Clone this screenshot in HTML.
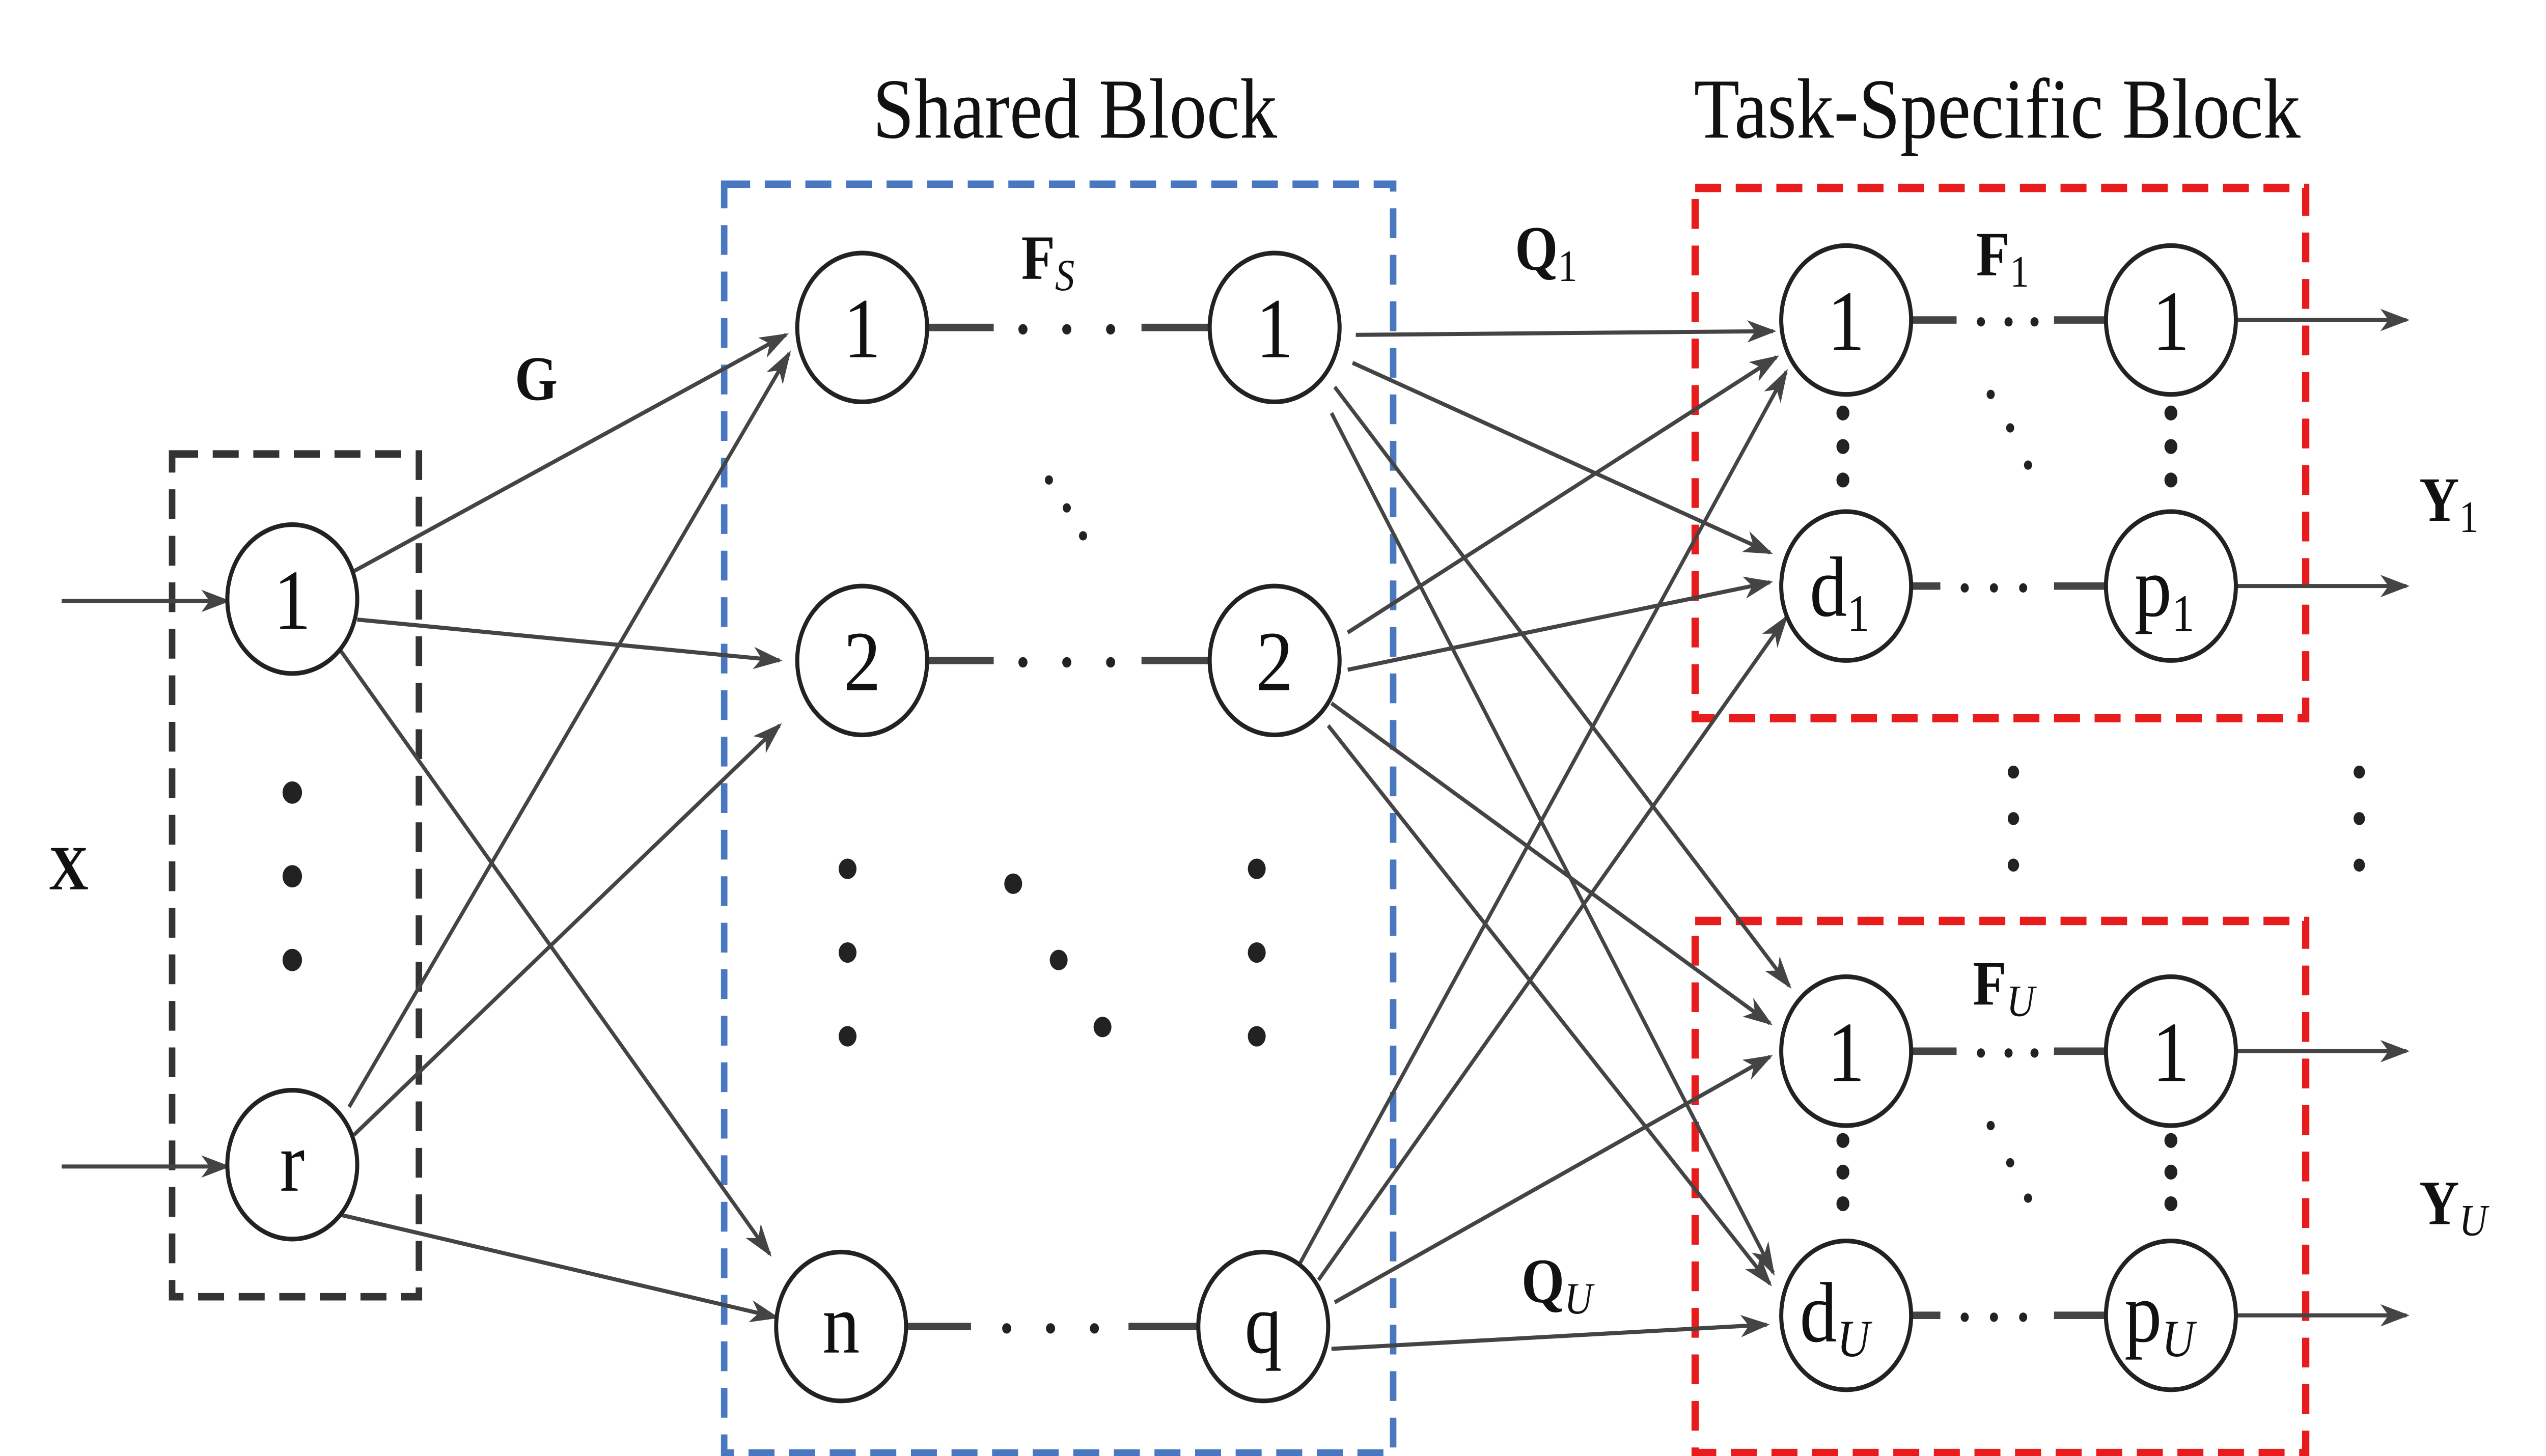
<!DOCTYPE html>
<html><head><meta charset="utf-8"><style>
html,body{margin:0;padding:0;background:#fff;overflow:hidden;width:100%;height:100%;}
svg{display:block;position:fixed;left:0;top:0;width:100vw;height:100vh;}
text{font-family:"Liberation Serif",serif;fill:#111;}
</style></head><body>
<svg viewBox="0 0 1568 782.6" preserveAspectRatio="none" xmlns="http://www.w3.org/2000/svg">
<defs>
<marker id="a" markerWidth="18" markerHeight="12" refX="16" refY="6" orient="auto" markerUnits="userSpaceOnUse">
<path d="M0,0 L18,6 L0,12 L5,6 Z" fill="#444"/>
</marker>
</defs>
<rect width="1568" height="782.6" fill="#fff"/>
<rect x="106" y="244" width="152" height="453" fill="none" stroke="#333" stroke-width="4" stroke-dasharray="16,9"/>
<rect x="446" y="99" width="412" height="682" fill="none" stroke="#4a78c0" stroke-width="4" stroke-dasharray="16,9"/>
<rect x="1044" y="101" width="376" height="285" fill="none" stroke="#e81c1c" stroke-width="4.5" stroke-dasharray="16,9"/>
<rect x="1044" y="495" width="376" height="286" fill="none" stroke="#e81c1c" stroke-width="4.5" stroke-dasharray="16,9"/>
<text x="662" y="74" font-size="46" text-anchor="middle">Shared Block</text>
<text x="1230" y="74" font-size="46" text-anchor="middle">Task-Specific Block</text>
<g stroke="#444" stroke-width="2.2" fill="none" marker-end="url(#a)">
<line x1="38" y1="323" x2="140" y2="323"/>
<line x1="38" y1="627" x2="140" y2="627"/>
<line x1="218" y1="307" x2="484" y2="180"/>
<line x1="220" y1="333" x2="480" y2="355"/>
<line x1="210" y1="350" x2="474" y2="674"/>
<line x1="215" y1="595" x2="486" y2="190"/>
<line x1="218" y1="610" x2="480" y2="390"/>
<line x1="210" y1="653" x2="478" y2="708"/>
<line x1="835" y1="180" x2="1092" y2="178"/>
<line x1="833" y1="195" x2="1090" y2="297"/>
<line x1="822" y1="208" x2="1102" y2="530"/>
<line x1="820" y1="222" x2="1092" y2="684"/>
<line x1="830" y1="340" x2="1094" y2="192"/>
<line x1="830" y1="360" x2="1090" y2="313"/>
<line x1="820" y1="378" x2="1090" y2="550"/>
<line x1="818" y1="390" x2="1090" y2="690"/>
<line x1="800" y1="680" x2="1100" y2="200"/>
<line x1="812" y1="688" x2="1100" y2="332"/>
<line x1="822" y1="700" x2="1090" y2="568"/>
<line x1="820" y1="725" x2="1088" y2="712"/>
<line x1="1378" y1="172" x2="1482" y2="172"/>
<line x1="1378" y1="315" x2="1482" y2="315"/>
<line x1="1378" y1="565" x2="1482" y2="565"/>
<line x1="1378" y1="707" x2="1482" y2="707"/>
</g>
<g stroke="#444" stroke-width="4">
<line x1="571" y1="176" x2="612" y2="176"/><line x1="703" y1="176" x2="745" y2="176"/>
<line x1="571" y1="355" x2="612" y2="355"/><line x1="703" y1="355" x2="745" y2="355"/>
<line x1="558" y1="713" x2="598" y2="713"/><line x1="695" y1="713" x2="738" y2="713"/>
<line x1="1177" y1="172" x2="1205" y2="172"/><line x1="1265" y1="172" x2="1297" y2="172"/>
<line x1="1177" y1="315" x2="1195" y2="315"/><line x1="1265" y1="315" x2="1297" y2="315"/>
<line x1="1177" y1="565" x2="1205" y2="565"/><line x1="1265" y1="565" x2="1297" y2="565"/>
<line x1="1177" y1="707" x2="1195" y2="707"/><line x1="1265" y1="707" x2="1297" y2="707"/>
</g>
<g fill="#222">
<circle cx="630" cy="177" r="2.8"/><circle cx="657" cy="177" r="2.8"/><circle cx="684" cy="177" r="2.8"/>
<circle cx="630" cy="356" r="2.8"/><circle cx="657" cy="356" r="2.8"/><circle cx="684" cy="356" r="2.8"/>
<circle cx="620" cy="714" r="2.8"/><circle cx="647" cy="714" r="2.8"/><circle cx="674" cy="714" r="2.8"/>
<circle cx="1220" cy="173" r="2.5"/><circle cx="1237" cy="173" r="2.5"/><circle cx="1253" cy="173" r="2.5"/>
<circle cx="1210" cy="316" r="2.5"/><circle cx="1228" cy="316" r="2.5"/><circle cx="1246" cy="316" r="2.5"/>
<circle cx="1220" cy="566" r="2.5"/><circle cx="1237" cy="566" r="2.5"/><circle cx="1253" cy="566" r="2.5"/>
<circle cx="1210" cy="708" r="2.5"/><circle cx="1228" cy="708" r="2.5"/><circle cx="1246" cy="708" r="2.5"/>
<circle cx="180" cy="426" r="6"/><circle cx="180" cy="471" r="6"/><circle cx="180" cy="516" r="6"/>
<circle cx="522" cy="467" r="5.5"/><circle cx="522" cy="512" r="5.5"/><circle cx="522" cy="557" r="5.5"/>
<circle cx="774" cy="467" r="5.5"/><circle cx="774" cy="512" r="5.5"/><circle cx="774" cy="557" r="5.5"/>
<circle cx="624" cy="475" r="5.5"/><circle cx="652" cy="516" r="5.5"/><circle cx="679" cy="552" r="5.5"/>
<circle cx="646" cy="258" r="2.5"/><circle cx="657" cy="273" r="2.5"/><circle cx="667" cy="288" r="2.5"/>
<circle cx="1135" cy="222" r="4"/><circle cx="1135" cy="240" r="4"/><circle cx="1135" cy="258" r="4"/>
<circle cx="1337" cy="222" r="4"/><circle cx="1337" cy="240" r="4"/><circle cx="1337" cy="258" r="4"/>
<circle cx="1226" cy="212" r="2.5"/><circle cx="1238" cy="230" r="2.5"/><circle cx="1249" cy="250" r="2.5"/>
<circle cx="1135" cy="613" r="4"/><circle cx="1135" cy="630" r="4"/><circle cx="1135" cy="647" r="4"/>
<circle cx="1337" cy="613" r="4"/><circle cx="1337" cy="630" r="4"/><circle cx="1337" cy="647" r="4"/>
<circle cx="1226" cy="605" r="2.5"/><circle cx="1238" cy="625" r="2.5"/><circle cx="1249" cy="644" r="2.5"/>
<circle cx="1240" cy="415" r="3.5"/><circle cx="1240" cy="440" r="3.5"/><circle cx="1240" cy="465" r="3.5"/>
<circle cx="1453" cy="415" r="3.5"/><circle cx="1453" cy="440" r="3.5"/><circle cx="1453" cy="465" r="3.5"/>
</g>
<g fill="#fff" stroke="#222" stroke-width="2.5">
<circle cx="180" cy="322" r="40"/><circle cx="180" cy="626" r="40"/>
<circle cx="531" cy="176" r="40"/><circle cx="785" cy="176" r="40"/>
<circle cx="531" cy="355" r="40"/><circle cx="785" cy="355" r="40"/>
<circle cx="518" cy="713" r="40"/><circle cx="778" cy="713" r="40"/>
<circle cx="1137" cy="172" r="40"/><circle cx="1337" cy="172" r="40"/>
<circle cx="1137" cy="315" r="40"/><circle cx="1337" cy="315" r="40"/>
<circle cx="1137" cy="565" r="40"/><circle cx="1337" cy="565" r="40"/>
<circle cx="1137" cy="707" r="40"/><circle cx="1337" cy="707" r="40"/>
</g>
<g font-size="46" text-anchor="middle">
<text x="180" y="338">1</text><text x="180" y="640">r</text>
<text x="531" y="192">1</text><text x="785" y="192">1</text>
<text x="531" y="371">2</text><text x="785" y="371">2</text>
<text x="518" y="727">n</text><text x="778" y="727">q</text>
<text x="1137" y="188">1</text><text x="1337" y="188">1</text>
<text x="1133" y="331">d<tspan font-size="28" dy="8">1</tspan></text>
<text x="1333" y="331">p<tspan font-size="28" dy="8">1</tspan></text>
<text x="1137" y="581">1</text><text x="1337" y="581">1</text>
<text x="1130" y="721">d<tspan font-size="28" dy="8" font-style="italic">U</tspan></text>
<text x="1330" y="721">p<tspan font-size="28" dy="8" font-style="italic">U</tspan></text>
</g>
<g font-size="34" font-weight="bold">
<text x="30" y="478">X</text>
<text x="317" y="215">G</text>
<text x="629" y="150">F<tspan font-size="24" font-weight="normal" font-style="italic" dy="6">S</tspan></text>
<text x="933" y="145">Q<tspan font-size="24" font-weight="normal" dy="6">1</tspan></text>
<text x="937" y="700">Q<tspan font-size="24" font-weight="normal" font-style="italic" dy="6">U</tspan></text>
<text x="1217" y="148">F<tspan font-size="24" font-weight="normal" dy="6">1</tspan></text>
<text x="1215" y="540">F<tspan font-size="24" font-weight="normal" font-style="italic" dy="6">U</tspan></text>
<text x="1490" y="280">Y<tspan font-size="24" font-weight="normal" dy="6">1</tspan></text>
<text x="1490" y="658">Y<tspan font-size="24" font-weight="normal" font-style="italic" dy="6">U</tspan></text>
</g>
</svg>
</body></html>
